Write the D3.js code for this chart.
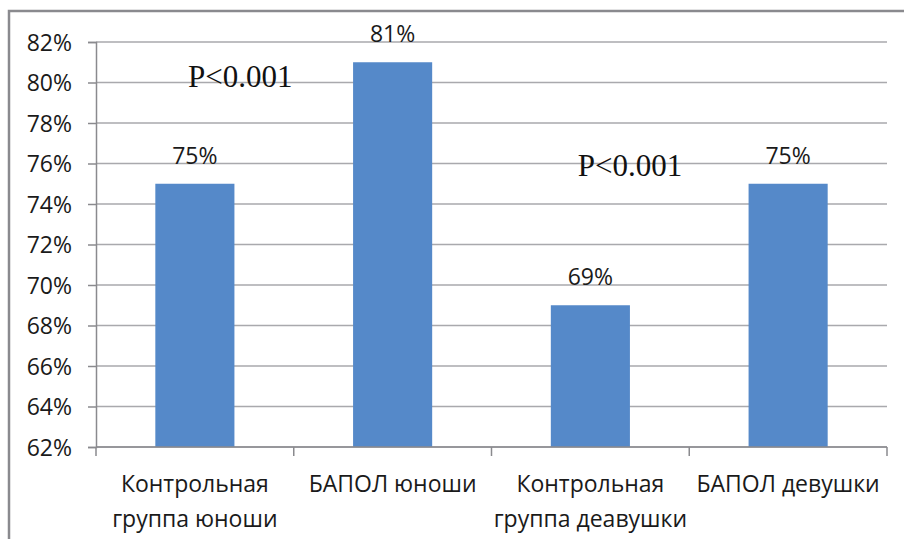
<!DOCTYPE html>
<html>
<head>
<meta charset="utf-8">
<script src="https://cdn.jsdelivr.net/npm/d3@7"></script>
<style>
  html, body { margin: 0; padding: 0; background: #fff; }
  svg { display: block; }
</style>
</head>
<body>
<script>
// Share of students, by group
const categories = [
  ["Контрольная", "группа юноши"],
  ["БАПОЛ юноши"],
  ["Контрольная", "группа деавушки"],
  ["БАПОЛ девушки"]
];
const values = [75, 81, 69, 75];
const yTicks = [62, 64, 66, 68, 70, 72, 74, 76, 78, 80, 82];
const pNotes = ["P<0.001", "P<0.001"];

const W = 904, H = 539;
const plot = { left: 96, right: 887, top: 42, bottom: 447 };
const FONT = "'Open Sans', 'DejaVu Sans', sans-serif";
// where each note sits: fractional category index and y level (in %)
const notePlace = [
  { cat: 0.23, level: 79.8 },
  { cat: 2.2, level: 75.4 }
];

const svg = d3.select("body").append("svg")
  .attr("width", W).attr("height", H);

// frame around the chart
svg.append("rect")
  .attr("x", 9).attr("y", 11)
  .attr("width", W + 20).attr("height", H + 20)
  .attr("fill", "none")
  .attr("stroke", "#8a8a8e")
  .attr("stroke-width", 2.5);

const x = d3.scaleBand()
  .domain(d3.range(categories.length))
  .range([plot.left, plot.right])
  .paddingInner(0.6)
  .paddingOuter(0.3);

const y = d3.scaleLinear()
  .domain([62, 82])
  .range([plot.bottom, plot.top]);

const catCenter = c => x(0) + x.bandwidth() / 2 + c * x.step();

// horizontal gridlines
svg.append("g")
  .selectAll("line")
  .data(yTicks)
  .join("line")
  .attr("x1", plot.left).attr("x2", plot.right)
  .attr("y1", d => y(d)).attr("y2", d => y(d))
  .attr("stroke", "#a9a9ad")
  .attr("stroke-width", 1.5);

// y axis
const yAxis = svg.append("g")
  .attr("transform", `translate(${plot.left},0)`)
  .call(d3.axisLeft(y).tickValues(yTicks).tickSize(8).tickPadding(16)
    .tickFormat(d => d + "%"));
yAxis.select(".domain").attr("stroke", "#8a8a8e").attr("stroke-width", 1.5);
yAxis.selectAll(".tick line").attr("stroke", "#8a8a8e").attr("stroke-width", 1.5);
yAxis.selectAll(".tick text")
  .attr("font-family", FONT).attr("font-size", 23).attr("fill", "#1a1a1a")
  .attr("dy", "0.36em");

// bars
svg.append("g")
  .selectAll("rect")
  .data(values)
  .join("rect")
  .attr("x", (d, i) => x(i))
  .attr("width", x.bandwidth())
  .attr("y", d => y(d))
  .attr("height", d => y(62) - y(d))
  .attr("fill", "#5589c9");

// x axis baseline and tick marks between categories
const step = x.step();
const bounds = d3.range(categories.length + 1).map(i => plot.left + i * step);
svg.append("line")
  .attr("x1", plot.left).attr("x2", plot.right)
  .attr("y1", plot.bottom).attr("y2", plot.bottom)
  .attr("stroke", "#8a8a8e").attr("stroke-width", 1.5);
svg.append("g")
  .selectAll("line")
  .data(bounds)
  .join("line")
  .attr("x1", d => d).attr("x2", d => d)
  .attr("y1", plot.bottom).attr("y2", plot.bottom + 9)
  .attr("stroke", "#8a8a8e").attr("stroke-width", 1.5);

// category labels
const catG = svg.append("g")
  .attr("font-family", FONT).attr("font-size", 23).attr("fill", "#1a1a1a")
  .attr("text-anchor", "middle");
categories.forEach((lines, i) => {
  const t = catG.append("text")
    .attr("x", x(i) + x.bandwidth() / 2)
    .attr("y", 492);
  lines.forEach((ln, k) => {
    t.append("tspan")
      .attr("x", x(i) + x.bandwidth() / 2)
      .attr("dy", k === 0 ? 0 : 35)
      .text(ln);
  });
});

// value labels above bars
svg.append("g")
  .selectAll("text")
  .data(values)
  .join("text")
  .attr("x", (d, i) => x(i) + x.bandwidth() / 2)
  .attr("y", d => y(d) - 20)
  .attr("text-anchor", "middle")
  .attr("font-family", FONT).attr("font-size", 23).attr("fill", "#1a1a1a")
  .text(d => d + "%");

// significance notes
svg.append("g")
  .selectAll("text")
  .data(pNotes)
  .join("text")
  .attr("x", (d, i) => catCenter(notePlace[i].cat))
  .attr("y", (d, i) => y(notePlace[i].level))
  .attr("text-anchor", "middle")
  .attr("font-family", "'Liberation Serif', 'Times New Roman', serif")
  .attr("font-size", 31).attr("fill", "#111")
  .text(d => d);
</script>
</body>
</html>
